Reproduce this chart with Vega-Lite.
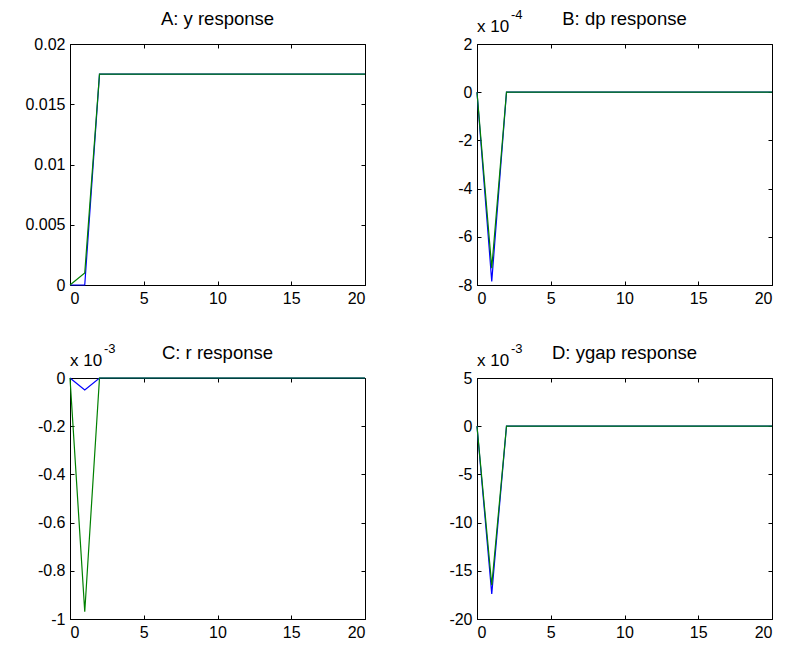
{
  "$schema": "https://vega.github.io/schema/vega-lite/v6.json",
  "background": "white",
  "padding": {"left": 3, "top": 8, "right": 5, "bottom": 5},
  "datasets": {
    "A": [
      {"t": 0, "blue": 0, "green": 0}, {"t": 1, "blue": 0, "green": 0.001}, {"t": 2, "blue": 0.0175, "green": 0.0175},
      {"t": 3, "blue": 0.0175, "green": 0.0175}, {"t": 4, "blue": 0.0175, "green": 0.0175}, {"t": 5, "blue": 0.0175, "green": 0.0175},
      {"t": 6, "blue": 0.0175, "green": 0.0175}, {"t": 7, "blue": 0.0175, "green": 0.0175}, {"t": 8, "blue": 0.0175, "green": 0.0175},
      {"t": 9, "blue": 0.0175, "green": 0.0175}, {"t": 10, "blue": 0.0175, "green": 0.0175}, {"t": 11, "blue": 0.0175, "green": 0.0175},
      {"t": 12, "blue": 0.0175, "green": 0.0175}, {"t": 13, "blue": 0.0175, "green": 0.0175}, {"t": 14, "blue": 0.0175, "green": 0.0175},
      {"t": 15, "blue": 0.0175, "green": 0.0175}, {"t": 16, "blue": 0.0175, "green": 0.0175}, {"t": 17, "blue": 0.0175, "green": 0.0175},
      {"t": 18, "blue": 0.0175, "green": 0.0175}, {"t": 19, "blue": 0.0175, "green": 0.0175}, {"t": 20, "blue": 0.0175, "green": 0.0175}
    ],
    "B": [
      {"t": 0, "blue": 0, "green": 0}, {"t": 1, "blue": -0.000785, "green": -0.00073}, {"t": 2, "blue": 0, "green": 0},
      {"t": 3, "blue": 0, "green": 0}, {"t": 4, "blue": 0, "green": 0}, {"t": 5, "blue": 0, "green": 0},
      {"t": 6, "blue": 0, "green": 0}, {"t": 7, "blue": 0, "green": 0}, {"t": 8, "blue": 0, "green": 0},
      {"t": 9, "blue": 0, "green": 0}, {"t": 10, "blue": 0, "green": 0}, {"t": 11, "blue": 0, "green": 0},
      {"t": 12, "blue": 0, "green": 0}, {"t": 13, "blue": 0, "green": 0}, {"t": 14, "blue": 0, "green": 0},
      {"t": 15, "blue": 0, "green": 0}, {"t": 16, "blue": 0, "green": 0}, {"t": 17, "blue": 0, "green": 0},
      {"t": 18, "blue": 0, "green": 0}, {"t": 19, "blue": 0, "green": 0}, {"t": 20, "blue": 0, "green": 0}
    ],
    "C": [
      {"t": 0, "blue": 0, "green": 0}, {"t": 1, "blue": -0.00005, "green": -0.00097}, {"t": 2, "blue": 0, "green": 0},
      {"t": 3, "blue": 0, "green": 0}, {"t": 4, "blue": 0, "green": 0}, {"t": 5, "blue": 0, "green": 0},
      {"t": 6, "blue": 0, "green": 0}, {"t": 7, "blue": 0, "green": 0}, {"t": 8, "blue": 0, "green": 0},
      {"t": 9, "blue": 0, "green": 0}, {"t": 10, "blue": 0, "green": 0}, {"t": 11, "blue": 0, "green": 0},
      {"t": 12, "blue": 0, "green": 0}, {"t": 13, "blue": 0, "green": 0}, {"t": 14, "blue": 0, "green": 0},
      {"t": 15, "blue": 0, "green": 0}, {"t": 16, "blue": 0, "green": 0}, {"t": 17, "blue": 0, "green": 0},
      {"t": 18, "blue": 0, "green": 0}, {"t": 19, "blue": 0, "green": 0}, {"t": 20, "blue": 0, "green": 0}
    ],
    "D": [
      {"t": 0, "blue": 0, "green": 0}, {"t": 1, "blue": -0.0174, "green": -0.0165}, {"t": 2, "blue": 0, "green": 0},
      {"t": 3, "blue": 0, "green": 0}, {"t": 4, "blue": 0, "green": 0}, {"t": 5, "blue": 0, "green": 0},
      {"t": 6, "blue": 0, "green": 0}, {"t": 7, "blue": 0, "green": 0}, {"t": 8, "blue": 0, "green": 0},
      {"t": 9, "blue": 0, "green": 0}, {"t": 10, "blue": 0, "green": 0}, {"t": 11, "blue": 0, "green": 0},
      {"t": 12, "blue": 0, "green": 0}, {"t": 13, "blue": 0, "green": 0}, {"t": 14, "blue": 0, "green": 0},
      {"t": 15, "blue": 0, "green": 0}, {"t": 16, "blue": 0, "green": 0}, {"t": 17, "blue": 0, "green": 0},
      {"t": 18, "blue": 0, "green": 0}, {"t": 19, "blue": 0, "green": 0}, {"t": 20, "blue": 0, "green": 0}
    ]
  },
  "columns": 2,
  "spacing": {"row": 93, "column": 112},
  "bounds": "flush",
  "concat": [
    {
      "width": 295, "height": 241,
      "data": {"name": "A"},
      "resolve": {"axis": {"x": "independent", "y": "independent"}},
      "layer": [
        {
          "mark": {"type": "line", "color": "#0000ff", "strokeWidth": 1.2},
          "encoding": {
            "x": {"field": "t", "type": "quantitative", "scale": {"domain": [0, 20], "nice": false}, "axis": {"orient": "bottom", "values": [0, 5, 10, 15, 20], "format": "d"}},
            "y": {"field": "blue", "type": "quantitative", "scale": {"domain": [0, 0.02], "nice": false}, "axis": {"orient": "left", "values": [0, 0.005, 0.01, 0.015, 0.02], "format": "~g"}}
          }
        },
        {
          "mark": {"type": "line", "color": "#008000", "strokeWidth": 1.2},
          "encoding": {
            "x": {"field": "t", "type": "quantitative", "axis": {"orient": "top", "values": [0, 5, 10, 15, 20], "labels": false, "domain": false, "minExtent": 0, "maxExtent": 0}},
            "y": {"field": "green", "type": "quantitative", "axis": {"orient": "right", "values": [0, 0.005, 0.01, 0.015, 0.02], "labels": false, "domain": false, "minExtent": 0, "maxExtent": 0}}
          }
        },
        {
          "data": {"values": [{}]},
          "mark": {"type": "text", "text": "A: y response", "align": "center", "baseline": "alphabetic", "dy": -19, "fontSize": 18.5, "font": "Liberation Sans", "color": "black"},
          "encoding": {"x": {"datum": 10, "type": "quantitative", "axis": null}, "y": {"datum": 0.02, "type": "quantitative", "axis": null}}
        }
      ]
    },
    {
      "width": 295, "height": 241,
      "data": {"name": "B"},
      "resolve": {"axis": {"x": "independent", "y": "independent"}},
      "layer": [
        {
          "mark": {"type": "line", "color": "#0000ff", "strokeWidth": 1.2},
          "encoding": {
            "x": {"field": "t", "type": "quantitative", "scale": {"domain": [0, 20], "nice": false}, "axis": {"orient": "bottom", "values": [0, 5, 10, 15, 20], "format": "d"}},
            "y": {"field": "blue", "type": "quantitative", "scale": {"domain": [-0.0008, 0.0002], "nice": false}, "axis": {"orient": "left", "values": [-0.0008, -0.0006, -0.0004, -0.0002, 0, 0.0002], "labelExpr": "(datum.value < -1e-12 ? '-' : '') + format(abs(round(datum.value * 1e5) / 10), '~g')"}}
          }
        },
        {
          "mark": {"type": "line", "color": "#008000", "strokeWidth": 1.2},
          "encoding": {
            "x": {"field": "t", "type": "quantitative", "axis": {"orient": "top", "values": [0, 5, 10, 15, 20], "labels": false, "domain": false, "minExtent": 0, "maxExtent": 0}},
            "y": {"field": "green", "type": "quantitative", "axis": {"orient": "right", "values": [-0.0008, -0.0006, -0.0004, -0.0002, 0, 0.0002], "labels": false, "domain": false, "minExtent": 0, "maxExtent": 0}}
          }
        },
        {
          "data": {"values": [{}]},
          "mark": {"type": "text", "text": "B: dp response", "align": "center", "baseline": "alphabetic", "dy": -19, "fontSize": 18.5, "font": "Liberation Sans", "color": "black"},
          "encoding": {"x": {"datum": 10, "type": "quantitative", "axis": null}, "y": {"datum": 0.0002, "type": "quantitative", "axis": null}}
        },
        {
          "data": {"values": [{}]},
          "mark": {"type": "text", "text": "x 10", "align": "left", "baseline": "alphabetic", "dy": -12, "fontSize": 17, "font": "Liberation Sans", "color": "black"},
          "encoding": {"x": {"datum": 0, "type": "quantitative", "axis": null}, "y": {"datum": 0.0002, "type": "quantitative", "axis": null}}
        },
        {
          "data": {"values": [{}]},
          "mark": {"type": "text", "text": "-4", "align": "left", "baseline": "alphabetic", "dx": 34, "dy": -25, "fontSize": 13, "font": "Liberation Sans", "color": "black"},
          "encoding": {"x": {"datum": 0, "type": "quantitative", "axis": null}, "y": {"datum": 0.0002, "type": "quantitative", "axis": null}}
        }
      ]
    },
    {
      "width": 295, "height": 241,
      "data": {"name": "C"},
      "resolve": {"axis": {"x": "independent", "y": "independent"}},
      "layer": [
        {
          "mark": {"type": "line", "color": "#0000ff", "strokeWidth": 1.2},
          "encoding": {
            "x": {"field": "t", "type": "quantitative", "scale": {"domain": [0, 20], "nice": false}, "axis": {"orient": "bottom", "values": [0, 5, 10, 15, 20], "format": "d"}},
            "y": {"field": "blue", "type": "quantitative", "scale": {"domain": [-0.001, 0], "nice": false}, "axis": {"orient": "left", "values": [-0.001, -0.0008, -0.0006, -0.0004, -0.0002, 0], "labelExpr": "(datum.value < -1e-12 ? '-' : '') + format(abs(round(datum.value * 1e4) / 10), '~g')"}}
          }
        },
        {
          "mark": {"type": "line", "color": "#008000", "strokeWidth": 1.2},
          "encoding": {
            "x": {"field": "t", "type": "quantitative", "axis": {"orient": "top", "values": [0, 5, 10, 15, 20], "labels": false, "domain": false, "minExtent": 0, "maxExtent": 0}},
            "y": {"field": "green", "type": "quantitative", "axis": {"orient": "right", "values": [-0.001, -0.0008, -0.0006, -0.0004, -0.0002, 0], "labels": false, "domain": false, "minExtent": 0, "maxExtent": 0}}
          }
        },
        {
          "data": {"values": [{}]},
          "mark": {"type": "text", "text": "C: r response", "align": "center", "baseline": "alphabetic", "dy": -19, "fontSize": 18.5, "font": "Liberation Sans", "color": "black"},
          "encoding": {"x": {"datum": 10, "type": "quantitative", "axis": null}, "y": {"datum": 0, "type": "quantitative", "axis": null}}
        },
        {
          "data": {"values": [{}]},
          "mark": {"type": "text", "text": "x 10", "align": "left", "baseline": "alphabetic", "dy": -12, "fontSize": 17, "font": "Liberation Sans", "color": "black"},
          "encoding": {"x": {"datum": 0, "type": "quantitative", "axis": null}, "y": {"datum": 0, "type": "quantitative", "axis": null}}
        },
        {
          "data": {"values": [{}]},
          "mark": {"type": "text", "text": "-3", "align": "left", "baseline": "alphabetic", "dx": 34, "dy": -25, "fontSize": 13, "font": "Liberation Sans", "color": "black"},
          "encoding": {"x": {"datum": 0, "type": "quantitative", "axis": null}, "y": {"datum": 0, "type": "quantitative", "axis": null}}
        }
      ]
    },
    {
      "width": 295, "height": 241,
      "data": {"name": "D"},
      "resolve": {"axis": {"x": "independent", "y": "independent"}},
      "layer": [
        {
          "mark": {"type": "line", "color": "#0000ff", "strokeWidth": 1.2},
          "encoding": {
            "x": {"field": "t", "type": "quantitative", "scale": {"domain": [0, 20], "nice": false}, "axis": {"orient": "bottom", "values": [0, 5, 10, 15, 20], "format": "d"}},
            "y": {"field": "blue", "type": "quantitative", "scale": {"domain": [-0.02, 0.005], "nice": false}, "axis": {"orient": "left", "values": [-0.02, -0.015, -0.01, -0.005, 0, 0.005], "labelExpr": "(datum.value < -1e-12 ? '-' : '') + format(abs(round(datum.value * 1e3)), '~g')"}}
          }
        },
        {
          "mark": {"type": "line", "color": "#008000", "strokeWidth": 1.2},
          "encoding": {
            "x": {"field": "t", "type": "quantitative", "axis": {"orient": "top", "values": [0, 5, 10, 15, 20], "labels": false, "domain": false, "minExtent": 0, "maxExtent": 0}},
            "y": {"field": "green", "type": "quantitative", "axis": {"orient": "right", "values": [-0.02, -0.015, -0.01, -0.005, 0, 0.005], "labels": false, "domain": false, "minExtent": 0, "maxExtent": 0}}
          }
        },
        {
          "data": {"values": [{}]},
          "mark": {"type": "text", "text": "D: ygap response", "align": "center", "baseline": "alphabetic", "dy": -19, "fontSize": 18.5, "font": "Liberation Sans", "color": "black"},
          "encoding": {"x": {"datum": 10, "type": "quantitative", "axis": null}, "y": {"datum": 0.005, "type": "quantitative", "axis": null}}
        },
        {
          "data": {"values": [{}]},
          "mark": {"type": "text", "text": "x 10", "align": "left", "baseline": "alphabetic", "dy": -12, "fontSize": 17, "font": "Liberation Sans", "color": "black"},
          "encoding": {"x": {"datum": 0, "type": "quantitative", "axis": null}, "y": {"datum": 0.005, "type": "quantitative", "axis": null}}
        },
        {
          "data": {"values": [{}]},
          "mark": {"type": "text", "text": "-3", "align": "left", "baseline": "alphabetic", "dx": 34, "dy": -25, "fontSize": 13, "font": "Liberation Sans", "color": "black"},
          "encoding": {"x": {"datum": 0, "type": "quantitative", "axis": null}, "y": {"datum": 0.005, "type": "quantitative", "axis": null}}
        }
      ]
    }
  ],
  "config": {
    "view": {"stroke": "black", "strokeWidth": 1},
    "axis": {
      "grid": false,
      "title": null,
      "domainColor": "black",
      "domainWidth": 1,
      "tickColor": "black",
      "tickWidth": 1,
      "tickSize": -4,
      "labelPadding": 9,
      "labelColor": "black",
      "labelFont": "Liberation Sans",
      "labelFontSize": 16,
      "minExtent": 66,
      "maxExtent": 66
    },
    "axisX": {"minExtent": 30, "maxExtent": 30}
  }
}
